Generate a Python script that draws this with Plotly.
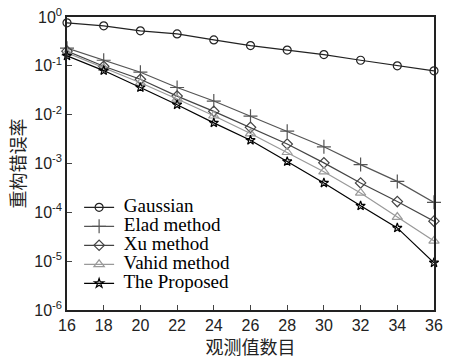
import plotly.graph_objects as go

x = [16, 18, 20, 22, 24, 26, 28, 30, 32, 34, 36]
gaussian = [0.76, 0.66, 0.52, 0.45, 0.34, 0.26, 0.21, 0.17, 0.13, 0.10, 0.079]
elad = [0.23, 0.13, 0.074, 0.036, 0.019, 0.0093, 0.0046, 0.0022, 0.00095, 0.00043, 0.00016]
xu = [0.20, 0.098, 0.053, 0.024, 0.0117, 0.0055, 0.0025, 0.00103, 0.0004, 0.000166, 0.000066]
vahid = [0.185, 0.09, 0.045, 0.021, 0.0095, 0.0041, 0.0017, 0.00068, 0.00025, 0.00008, 0.000026]
proposed = [0.16, 0.080, 0.036, 0.016, 0.0068, 0.0030, 0.0011, 0.00040, 0.000136, 0.000048, 0.0000093]

names = ["Gaussian", "Elad method", "Xu method", "Vahid method", "The Proposed"]
ytickvals = [1e-6, 1e-5, 1e-4, 1e-3, 1e-2, 1e-1, 1]
yticktext = ["10<sup>-6</sup>", "10<sup>-5</sup>", "10<sup>-4</sup>", "10<sup>-3</sup>",
             "10<sup>-2</sup>", "10<sup>-1</sup>", "10<sup>0</sup>"]

series = [gaussian, elad, xu, vahid, proposed]
colors = ["#222222", "#555555", "#444444", "#999999", "#000000"]
symbols = ["circle-open", "cross-thin-open", "diamond-open", "triangle-up-open", "star-open"]
sizes = [8, 10, 8, 9, 7]

fig = go.Figure()
for n, s, c, sym, sz in zip(names, series, colors, symbols, sizes):
    fig.add_trace(go.Scatter(
        x=x, y=s, name='<span style="font-size:19px"> ' + n + '</span>',
        mode="lines+markers",
        line=dict(color=c, width=1.2),
        marker=dict(symbol=sym, size=sz, color=c, line=dict(color=c, width=1.2)),
        cliponaxis=False,
    ))

fig.update_layout(
    width=449, height=359,
    margin=dict(l=67, r=6, t=17, b=46),
    paper_bgcolor="white", plot_bgcolor="white",
    showlegend=True,
    legend=dict(x=0.033, y=0.40, xanchor="left", yanchor="top",
                bgcolor="rgba(0,0,0,0)",
                font=dict(family="Liberation Serif", size=12, color="black"),
                tracegroupgap=0, itemwidth=30),
    xaxis=dict(range=[16, 36], tickvals=x, ticks="inside", ticklen=5,
               ticklabeloverflow="allow",
               showline=True, linecolor="#222", linewidth=1.5, mirror=True,
               showgrid=False, zeroline=False,
               tickfont=dict(family="Liberation Sans", size=16, color="#222"),
               title=dict(text="观测值数目", font=dict(family="Noto Sans CJK SC", size=18, color="#222"),
                          standoff=6)),
    yaxis=dict(type="log", range=[-6, 0], tickvals=ytickvals, ticktext=yticktext,
               ticks="inside", ticklen=5,
               showline=True, linecolor="#222", linewidth=1.5, mirror=True,
               showgrid=False, zeroline=False,
               tickfont=dict(family="Liberation Sans", size=16, color="#222"),
               title=dict(text="重构错误率", font=dict(family="Noto Sans CJK SC", size=18, color="#222"),
                          standoff=4)),
)

fig.write_html("out.html")
